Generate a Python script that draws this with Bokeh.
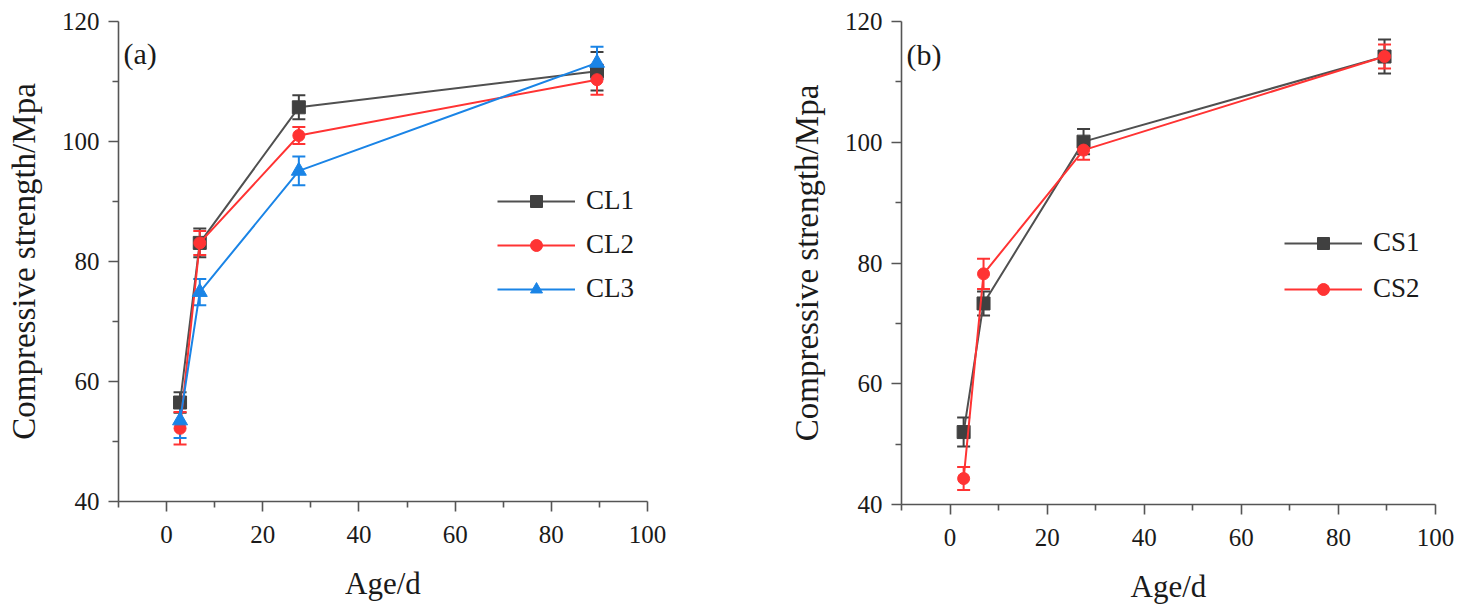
from bokeh.plotting import figure
from bokeh.layouts import row
from bokeh.models import (ColumnDataSource, Whisker, TeeHead, Legend, LegendItem,
                          Range1d, Label, FixedTicker)
from bokeh.embed import file_html
from bokeh.resources import INLINE

# ---------------- data ----------------
age = [2.8, 6.9, 27.5, 89.5]

cl1 = [56.5, 83.1, 105.7, 111.7]
cl1_err = [1.7, 2.4, 2.0, 3.2]
cl2 = [52.2, 83.1, 101.0, 110.3]
cl2_err = [2.7, 2.0, 1.4, 2.5]
cl3 = [53.5, 74.9, 95.1, 113.1]
cl3_err = [2.9, 2.2, 2.4, 2.7]

cs1 = [52.0, 73.3, 100.1, 114.2]
cs1_err = [2.4, 2.0, 2.1, 2.8]
cs2 = [44.3, 78.2, 98.7, 114.2]
cs2_err = [1.9, 2.5, 1.6, 2.0]

x_ticks = [0, 20, 40, 60, 80, 100]
y_ticks = [40, 60, 80, 100, 120]

FONT = "Liberation Serif"
AXIS_COLOR = "#555555"


def make_fig(frame_w, frame_h, bl, br, bt, bb):
    p = figure(frame_width=frame_w, frame_height=frame_h,
               min_border_left=bl, min_border_right=br,
               min_border_top=bt, min_border_bottom=bb,
               x_range=Range1d(-10, 100), y_range=Range1d(40, 120),
               output_backend="svg", toolbar_location=None)
    p.outline_line_color = None
    p.xgrid.visible = False
    p.ygrid.visible = False
    p.background_fill_color = "white"
    p.border_fill_color = "white"
    for ax, ticks in ((p.xaxis[0], x_ticks), (p.yaxis[0], y_ticks)):
        step = ticks[1] - ticks[0]
        minors = [t + step / 2 for t in ticks[:-1]]
        if ax is p.xaxis[0]:
            minors = [ticks[0] - step / 2] + minors
        ax.ticker = FixedTicker(ticks=ticks, minor_ticks=minors)
        ax.axis_line_color = AXIS_COLOR
        ax.axis_line_width = 1.6
        ax.major_tick_line_color = AXIS_COLOR
        ax.major_tick_line_width = 1.6
        ax.minor_tick_line_color = AXIS_COLOR
        ax.minor_tick_line_width = 1.6
        ax.major_tick_out = 10
        ax.major_tick_in = 0
        ax.minor_tick_out = 6
        ax.minor_tick_in = 0
        ax.major_label_text_font = FONT
        ax.major_label_text_font_size = "25px"
        ax.major_label_text_color = "#1a1a1a"
        ax.axis_label_text_font = FONT
        ax.axis_label_text_font_style = "normal"
        ax.axis_label_text_color = "#1a1a1a"
    p.xaxis.axis_label_text_font_size = "31px"
    p.yaxis.axis_label_text_font_size = "33px"
    p.xaxis.major_label_standoff = 14
    p.yaxis.major_label_standoff = 9
    p.xaxis.axis_label = "Age/d"
    p.yaxis.axis_label = "Compressive strength/Mpa"
    p.xaxis.axis_label_standoff = 20
    p.yaxis.axis_label_standoff = 17
    return p


def add_series(p, y, err, color, line_color, marker, size):
    lower = [v - e for v, e in zip(y, err)]
    upper = [v + e for v, e in zip(y, err)]
    src = ColumnDataSource(dict(x=age, y=y, lower=lower, upper=upper))
    w = Whisker(base="x", lower="lower", upper="upper", source=src,
                dimension="height", line_color=color, line_width=2,
                upper_head=TeeHead(size=13, line_color=color, line_width=2),
                lower_head=TeeHead(size=13, line_color=color, line_width=2))
    p.add_layout(w)
    ln = p.line("x", "y", source=src, line_color=line_color, line_width=2)
    sc = p.scatter("x", "y", source=src, marker=marker, size=size,
                   fill_color=color, line_color=color)
    return [ln, sc]


def add_legend(p, items, x, y, spacing):
    leg = Legend(items=items, location=(x, y), orientation="vertical",
                 glyph_width=78, glyph_height=30, label_standoff=11,
                 spacing=spacing, padding=0, margin=0,
                 label_text_font=FONT, label_text_font_size="27px",
                 label_text_color="#1a1a1a", label_height=30,
                 border_line_alpha=0, background_fill_alpha=0)
    p.add_layout(leg, "center")


# ---------------- panel (a) ----------------
pa = make_fig(529, 480, 118, 101, 21, 100)
r1 = add_series(pa, cl1, cl1_err, "#404040", "#505050", "square", 13)
r2 = add_series(pa, cl2, cl2_err, "#ff3333", "#ff3333", "circle", 12)
r3 = add_series(pa, cl3, cl3_err, "#1a84e6", "#1a84e6", "triangle", 15)
add_legend(pa, [LegendItem(label="CL1", renderers=r1),
                LegendItem(label="CL2", renderers=r2),
                LegendItem(label="CL3", renderers=r3)], 379, 197, 13)
pa.add_layout(Label(x=5, y=448, x_units="screen", y_units="screen", text="(a)",
                    text_font=FONT, text_font_size="30px", text_color="#1a1a1a",
                    text_baseline="middle"))

# ---------------- panel (b) ----------------
pb = make_fig(534, 483, 153, 25, 20, 98)
s1 = add_series(pb, cs1, cs1_err, "#404040", "#505050", "square", 13)
s2 = add_series(pb, cs2, cs2_err, "#ff3333", "#ff3333", "circle", 12)
add_legend(pb, [LegendItem(label="CS1", renderers=s1),
                LegendItem(label="CS2", renderers=s2)], 383, 200, 15)
pb.add_layout(Label(x=5, y=450, x_units="screen", y_units="screen", text="(b)",
                    text_font=FONT, text_font_size="30px", text_color="#1a1a1a",
                    text_baseline="middle"))

layout = row(pa, pb)
open("out.html", "w").write(file_html(layout, INLINE))
